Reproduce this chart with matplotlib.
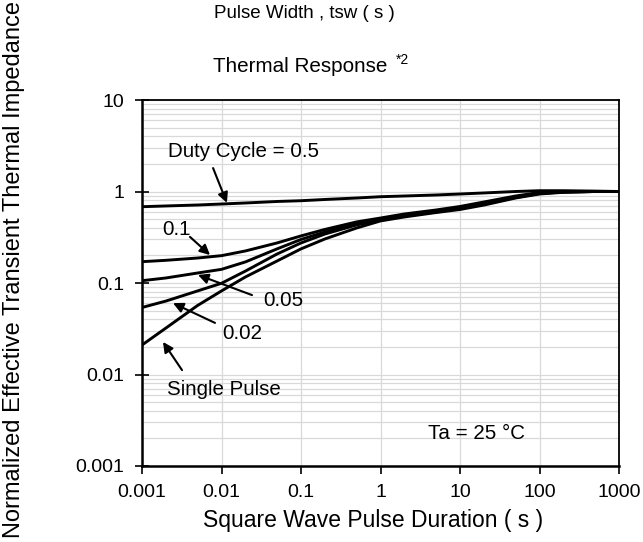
import matplotlib
matplotlib.use("Agg")
import matplotlib.pyplot as plt
from matplotlib.ticker import FixedLocator, FixedFormatter, LogLocator, NullFormatter

plt.rcParams['font.family'] = ['Liberation Sans', 'DejaVu Sans']

# pulse duration (s)
t = [0.001, 0.002, 0.005, 0.01, 0.02, 0.05, 0.1, 0.2, 0.5, 1, 2, 5, 10, 20, 50, 100, 200, 500, 1000]

# normalized transient thermal impedance
z_d05 = [0.682, 0.695, 0.712, 0.730, 0.749, 0.778, 0.793, 0.818, 0.849, 0.877,
         0.893, 0.916, 0.939, 0.964, 1.0, 1.02, 1.02, 1.01, 1.0]
z_d01 = [0.171, 0.177, 0.1875, 0.199, 0.224, 0.274, 0.327, 0.385, 0.465, 0.513,
         0.568, 0.628, 0.686, 0.768, 0.893, 0.975, 1.0, 1.0, 1.0]
z_d005 = [0.106, 0.1135, 0.1286, 0.141, 0.170, 0.236, 0.299, 0.361, 0.447, 0.50,
          0.553, 0.612, 0.668, 0.749, 0.871, 0.964, 0.988, 1.0, 1.0]
z_d002 = [0.054, 0.0635, 0.0819, 0.0993, 0.135, 0.2075, 0.274, 0.343, 0.431, 0.489,
          0.540, 0.597, 0.652, 0.730, 0.859, 0.95, 0.987, 1.0, 1.0]
z_single = [0.021, 0.0322, 0.0568, 0.0819, 0.1164, 0.174, 0.236, 0.303, 0.399, 0.477,
            0.527, 0.589, 0.636, 0.711, 0.849, 0.939, 0.98, 1.0, 1.0]

x_ticks = [0.001, 0.01, 0.1, 1, 10, 100, 1000]
x_labels = ["0.001", "0.01", "0.1", "1", "10", "100", "1000"]
y_ticks = [0.001, 0.01, 0.1, 1, 10]
y_labels = ["0.001", "0.01", "0.1", "1", "10"]

fig = plt.figure(figsize=(6.43, 5.42), dpi=100)
ax = fig.add_axes([142 / 643, 1 - 466 / 542, 477 / 643, 366 / 542])

for z in [z_d05, z_d01, z_d005, z_d002, z_single]:
    ax.plot(t, z, color='black', lw=2.1, solid_joinstyle='round')

ax.set_xscale('log')
ax.set_yscale('log')
ax.set_xlim(0.001, 1000)
ax.set_ylim(0.001, 10)

ax.xaxis.set_major_locator(FixedLocator(x_ticks))
ax.xaxis.set_major_formatter(FixedFormatter(x_labels))
ax.xaxis.set_minor_locator(FixedLocator([]))
ax.yaxis.set_major_locator(FixedLocator(y_ticks))
ax.yaxis.set_major_formatter(FixedFormatter(y_labels))
ax.yaxis.set_minor_locator(LogLocator(base=10, subs=range(2, 10), numticks=20))
ax.yaxis.set_minor_formatter(NullFormatter())

ax.grid(True, which='major', axis='both', color='#d9d9d9', lw=0.9)
ax.grid(True, which='minor', axis='y', color='#d9d9d9', lw=0.9)
ax.set_axisbelow(True)

tick_fs = 14
ax.tick_params(axis='y', which='major', direction='inout', length=10, width=1.2, pad=8, labelsize=tick_fs)
ax.tick_params(axis='y', which='minor', length=0)
ax.tick_params(axis='x', which='major', direction='out', length=6, width=1.2, pad=7, labelsize=tick_fs)
for s in ax.spines.values():
    s.set_color('black')
    s.set_linewidth(1.3)
ax.spines['left'].set_linewidth(1.8)
ax.spines['bottom'].set_linewidth(1.8)

# labels and arrows
fs = 14.8
ax.text(0.0545, 0.858, "Duty Cycle = 0.5", transform=ax.transAxes, fontsize=fs, va='center')
ax.text(0.042, 0.645, "0.1", transform=ax.transAxes, fontsize=fs, va='center')
ax.text(0.2537, 0.451, "0.05", transform=ax.transAxes, fontsize=fs, va='center')
ax.text(0.1677, 0.363, "0.02", transform=ax.transAxes, fontsize=fs, va='center')
ax.text(0.0524, 0.210, "Single Pulse", transform=ax.transAxes, fontsize=fs, va='center')
ax.text(0.5996, 0.090, "Ta = 25 \u00b0C", transform=ax.transAxes, fontsize=fs, va='center')

arrows = [
    ((0.149, 0.814), (0.178, 0.719)),
    ((0.1006, 0.626), (0.1426, 0.5765)),
    ((0.2306, 0.467), (0.1174, 0.522)),
    ((0.153, 0.391), (0.065, 0.445)),
    ((0.0839, 0.262), (0.044, 0.339)),
]
for tail, head in arrows:
    ax.annotate("", xy=head, xytext=tail, xycoords='axes fraction', textcoords='axes fraction',
                arrowprops=dict(arrowstyle='-|>', color='black', lw=1.5, mutation_scale=15,
                                shrinkA=0, shrinkB=0))

fig.text(373 / 643, 1 - 520 / 542, "Square Wave Pulse Duration ( s )", fontsize=16.5, ha='center', va='center')
fig.text(14 / 643, 1 - 270 / 542, "Normalized Effective Transient Thermal Impedance", fontsize=17,
         rotation=90, ha='center', va='center')
fig.text(304 / 643, 1 - 14 / 542, "Pulse Width , tsw ( s )", fontsize=13.5, ha='center', va='center')
fig.text(300 / 643, 1 - 67 / 542, "Thermal Response", fontsize=14.9, ha='center', va='center')
fig.text(396 / 643, 1 - 60 / 542, "*2", fontsize=10, ha='left', va='center')

fig.savefig("out.png", dpi=100)
